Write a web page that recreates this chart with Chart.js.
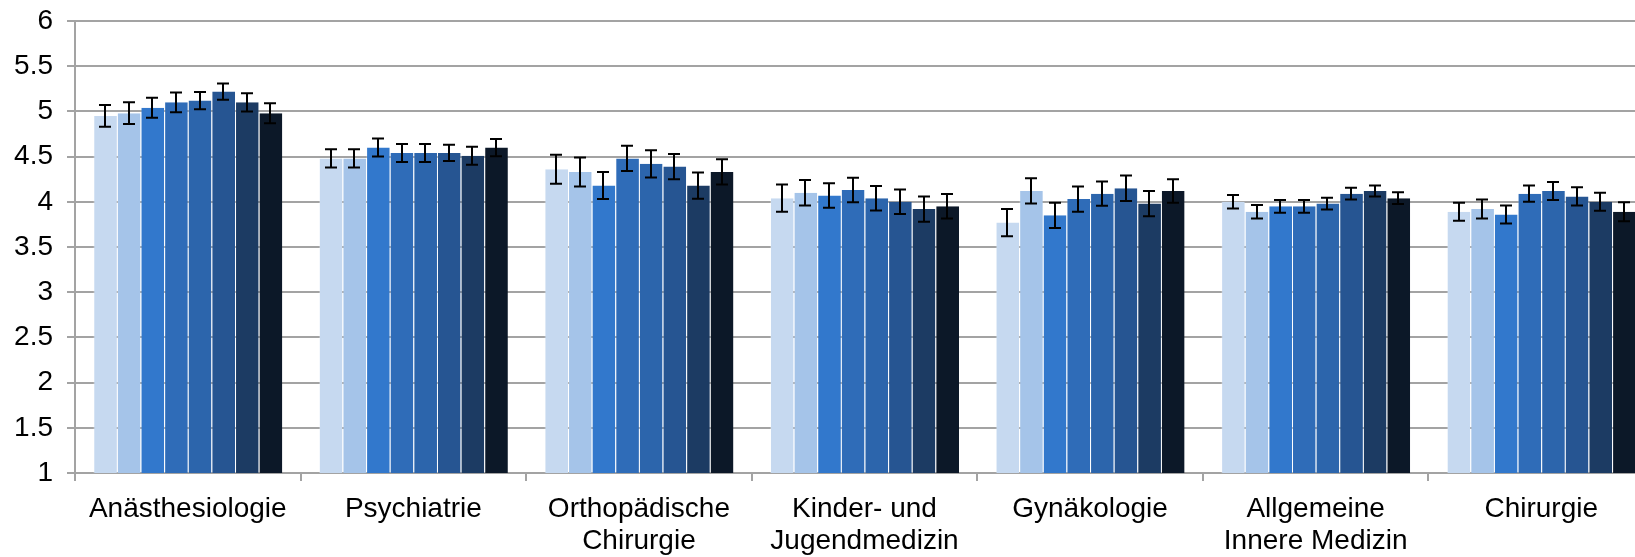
<!DOCTYPE html>
<html>
<head>
<meta charset="utf-8">
<script src="https://cdn.jsdelivr.net/npm/chart.js@4/dist/chart.umd.min.js"></script>
<style>
  html, body { margin: 0; padding: 0; background: #fff; overflow: hidden; }
  #wrap { width: 1654px; height: 557px; position: relative; }
</style>
</head>
<body>
<div id="wrap"><canvas id="chart"></canvas></div>
<script>
// Categories (x axis)
const categories = [
    'Anästhesiologie',
    'Psychiatrie',
    ['Orthopädische', 'Chirurgie'],
    ['Kinder- und', 'Jugendmedizin'],
    'Gynäkologie',
    ['Allgemeine', 'Innere Medizin'],
    'Chirurgie'
];

// Y ticks
const yMin = 1;
const yMax = 6;
const yStep = 0.5;

// Mean values per series (8 series, one value per category)
const series1 = [4.95, 4.48, 4.36, 4.04, 3.77, 4.00, 3.89];
const series2 = [4.98, 4.48, 4.33, 4.10, 4.12, 3.89, 3.92];
const series3 = [5.04, 4.60, 4.18, 4.07, 3.85, 3.95, 3.86];
const series4 = [5.10, 4.54, 4.48, 4.13, 4.03, 3.95, 4.09];
const series5 = [5.12, 4.54, 4.42, 4.04, 4.09, 3.98, 4.12];
const series6 = [5.22, 4.54, 4.39, 4.00, 4.15, 4.09, 4.06];
const series7 = [5.10, 4.51, 4.18, 3.92, 3.98, 4.12, 4.00];
const series8 = [4.98, 4.60, 4.33, 3.95, 4.12, 4.04, 3.89];

// Error (± half-length of each error bar)
const errors1 = [0.12, 0.10, 0.16, 0.15, 0.15, 0.075, 0.10];
const errors2 = [0.12, 0.10, 0.16, 0.14, 0.14, 0.075, 0.105];
const errors3 = [0.11, 0.10, 0.15, 0.135, 0.14, 0.07, 0.10];
const errors4 = [0.11, 0.10, 0.14, 0.135, 0.14, 0.07, 0.09];
const errors5 = [0.095, 0.10, 0.15, 0.135, 0.135, 0.065, 0.10];
const errors6 = [0.09, 0.09, 0.14, 0.135, 0.14, 0.065, 0.10];
const errors7 = [0.10, 0.10, 0.145, 0.14, 0.14, 0.06, 0.10];
const errors8 = [0.11, 0.095, 0.14, 0.135, 0.13, 0.065, 0.105];

const seriesValues = [series1, series2, series3, series4, series5, series6, series7, series8];
const seriesErrors = [errors1, errors2, errors3, errors4, errors5, errors6, errors7, errors8];
const seriesColors = ['#c6d9f0', '#a5c4e9', '#3278cc', '#2f6cb8', '#2c65ac', '#265592', '#1c3b63', '#0c1828'];

const gridColor = '#a3a3a3';
const fontFamily = '"Liberation Sans", Arial, sans-serif';

/**
 * Draws error bars on top of each bar, using the chart's own y scale
 */
const errorBarPlugin = {
    id: 'errorBars',
    afterDatasetsDraw(chart) {
        const ctx = chart.ctx;
        const yScale = chart.scales.y;
        ctx.save();
        ctx.strokeStyle = '#000';
        ctx.lineWidth = 2;
        chart.data.datasets.forEach((dataset, i) => {
            const meta = chart.getDatasetMeta(i);
            meta.data.forEach((bar, j) => {
                const value = dataset.data[j];
                const err = dataset.errors[j];
                const x = Math.round(bar.x);
                const yTop = yScale.getPixelForValue(value + err);
                const yBottom = yScale.getPixelForValue(value - err);
                const cap = 6;
                ctx.beginPath();
                ctx.moveTo(x, yTop);
                ctx.lineTo(x, yBottom);
                ctx.moveTo(x - cap, yTop);
                ctx.lineTo(x + cap, yTop);
                ctx.moveTo(x - cap, yBottom);
                ctx.lineTo(x + cap, yBottom);
                ctx.stroke();
            });
        });
        ctx.restore();
    }
};

const datasets = seriesValues.map((values, i) => ({
    label: 'Serie ' + (i + 1),
    data: values,
    errors: seriesErrors[i],
    backgroundColor: seriesColors[i],
    borderColor: 'rgba(255, 255, 255, 0.25)',
    borderWidth: { left: 1, right: 0, top: 0, bottom: 0 },
    borderSkipped: false,
    barPercentage: 1.0,
    categoryPercentage: 0.838
}));

const ctx = document.getElementById('chart').getContext('2d');
new Chart(ctx, {
    type: 'bar',
    data: { labels: categories, datasets },
    options: {
        responsive: true,
        maintainAspectRatio: false,
        animation: false,
        layout: { padding: { top: 20, right: 0, left: 0, bottom: 0 } },
        plugins: {
            legend: { display: false },
            tooltip: { enabled: false }
        },
        scales: {
            x: {
                grid: {
                    offset: true,
                    drawOnChartArea: false,
                    drawTicks: true,
                    tickLength: 8,
                    color: gridColor,
                    lineWidth: 2
                },
                border: { display: true, color: gridColor, width: 2 },
                ticks: {
                    color: '#000',
                    padding: 12,
                    maxRotation: 0,
                    autoSkip: false,
                    font: { family: fontFamily, size: 28, lineHeight: 1.15 }
                },
                afterFit(scale) { scale.height = 84; }
            },
            y: {
                min: yMin,
                max: yMax,
                grid: {
                    color: gridColor,
                    lineWidth: 2,
                    drawTicks: true,
                    tickLength: 8
                },
                border: { display: true, color: gridColor, width: 2 },
                ticks: {
                    stepSize: yStep,
                    color: '#000',
                    padding: 14,
                    font: { family: fontFamily, size: 28, lineHeight: 0.5 },
                    callback: (value) => String(value)
                },
                afterFit(scale) { scale.width = 75; }
            }
        }
    },
    plugins: [errorBarPlugin]
});
</script>
</body>
</html>
